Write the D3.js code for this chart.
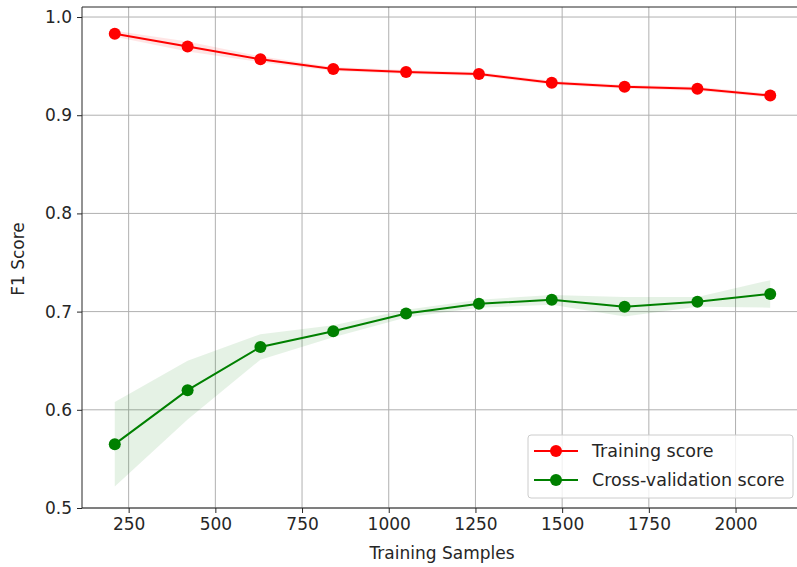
<!DOCTYPE html>
<html>
<head>
<meta charset="utf-8">
<script src="https://cdn.jsdelivr.net/npm/d3@7/dist/d3.min.js"></script>
<style>
  html, body { margin: 0; padding: 0; background: #fff; }
  svg { display: block; font-family: "DejaVu Sans", sans-serif; }
</style>
</head>
<body>
<svg id="chart" width="797" height="567"></svg>
<script>
// Learning-curve data: training sizes and mean / std of F1 scores
const trainSizes = [210, 420, 630, 840, 1050, 1260, 1470, 1680, 1890, 2100];
const trainMean = [0.983, 0.970, 0.957, 0.947, 0.944, 0.942, 0.933, 0.929, 0.927, 0.920];
const trainStd  = [0.003, 0.005, 0.003, 0.002, 0.002, 0.002, 0.002, 0.002, 0.002, 0.002];
const cvMean = [0.565, 0.620, 0.664, 0.680, 0.698, 0.708, 0.712, 0.705, 0.710, 0.718];
const cvStd  = [0.043, 0.030, 0.013, 0.006, 0.004, 0.004, 0.005, 0.010, 0.005, 0.014];
const xTicks = [250, 500, 750, 1000, 1250, 1500, 1750, 2000];
const yTicks = [0.5, 0.6, 0.7, 0.8, 0.9, 1.0];
const seriesNames = ["Training score", "Cross-validation score"];
const seriesColors = ["#ff0000", "#008000"];

const FONT = 17;
const TEXT = "#262626";

const svg = d3.select("#chart");
const plotLeft = 82, plotRight = 803, plotTop = 7, plotBottom = 508;

const x = d3.scaleLinear().domain([115.5, 2194.5]).range([plotLeft, plotRight]);
const y = d3.scaleLinear().domain([0.5, 1.0102]).range([plotBottom, plotTop]);

const plot = svg.append("g");

// grid
plot.append("g").selectAll("line").data(xTicks).join("line")
  .attr("x1", d => x(d)).attr("x2", d => x(d))
  .attr("y1", plotTop).attr("y2", plotBottom)
  .attr("stroke", "#b0b0b0").attr("stroke-width", 1);
plot.append("g").selectAll("line").data(yTicks).join("line")
  .attr("x1", plotLeft).attr("x2", plotRight)
  .attr("y1", d => y(d)).attr("y2", d => y(d))
  .attr("stroke", "#b0b0b0").attr("stroke-width", 1);

const series = [
  { mean: trainMean, std: trainStd, color: seriesColors[0] },
  { mean: cvMean, std: cvStd, color: seriesColors[1] }
];

// std bands
series.forEach(s => {
  const area = d3.area()
    .x((d, i) => x(trainSizes[i]))
    .y0((d, i) => y(s.mean[i] - s.std[i]))
    .y1((d, i) => y(s.mean[i] + s.std[i]));
  plot.append("path").datum(s.mean).attr("d", area)
    .attr("fill", s.color).attr("fill-opacity", 0.1);
});

// lines + markers
series.forEach(s => {
  const line = d3.line().x((d, i) => x(trainSizes[i])).y(d => y(d));
  plot.append("path").datum(s.mean).attr("d", line)
    .attr("fill", "none").attr("stroke", s.color).attr("stroke-width", 2);
  plot.append("g").selectAll("circle").data(s.mean).join("circle")
    .attr("cx", (d, i) => x(trainSizes[i])).attr("cy", d => y(d))
    .attr("r", 6).attr("fill", s.color);
});

// axes
const xAxis = svg.append("g").attr("transform", `translate(0,${plotBottom})`)
  .call(d3.axisBottom(x).tickValues(xTicks).tickFormat(d3.format("d")).tickSize(5).tickPadding(5));
const yAxis = svg.append("g").attr("transform", `translate(${plotLeft},0)`)
  .call(d3.axisLeft(y).tickValues(yTicks).tickFormat(d3.format(".1f")).tickSize(5).tickPadding(5));
[xAxis, yAxis].forEach(a => {
  a.selectAll("text").attr("font-size", FONT).attr("fill", TEXT)
    .attr("font-family", "'DejaVu Sans', sans-serif");
  a.selectAll("line").attr("stroke", TEXT);
  a.select(".domain").attr("stroke", TEXT);
});
xAxis.select(".domain").attr("d", `M${plotLeft},0H${plotRight}`);
yAxis.select(".domain").attr("d", `M0,${plotBottom}V${plotTop}`);
// top spine
svg.append("line").attr("x1", plotLeft).attr("x2", plotRight).attr("y1", plotTop).attr("y2", plotTop)
  .attr("stroke", TEXT).attr("stroke-width", 1);

// axis titles
svg.append("text").attr("x", 442).attr("y", 559).attr("text-anchor", "middle")
  .attr("font-size", FONT).attr("fill", TEXT).text("Training Samples");
svg.append("text").attr("transform", "translate(24,259) rotate(-90)").attr("text-anchor", "middle")
  .attr("font-size", FONT).attr("fill", TEXT).text("F1 Score");

// legend
const lg = svg.append("g").attr("transform", "translate(528,435)");
lg.append("rect").attr("width", 265).attr("height", 63).attr("rx", 3)
  .attr("fill", "#fff").attr("fill-opacity", 0.8).attr("stroke", "#cccccc");
seriesNames.forEach((name, i) => {
  const g = lg.append("g").attr("transform", `translate(0,${16 + i * 29})`);
  g.append("line").attr("x1", 6).attr("x2", 50).attr("stroke", seriesColors[i]).attr("stroke-width", 2);
  g.append("circle").attr("cx", 28).attr("r", 6).attr("fill", seriesColors[i]);
  g.append("text").attr("x", 64).attr("dy", "0.35em").attr("font-size", 17.5)
    .attr("fill", TEXT).text(name);
});
</script>
</body>
</html>
